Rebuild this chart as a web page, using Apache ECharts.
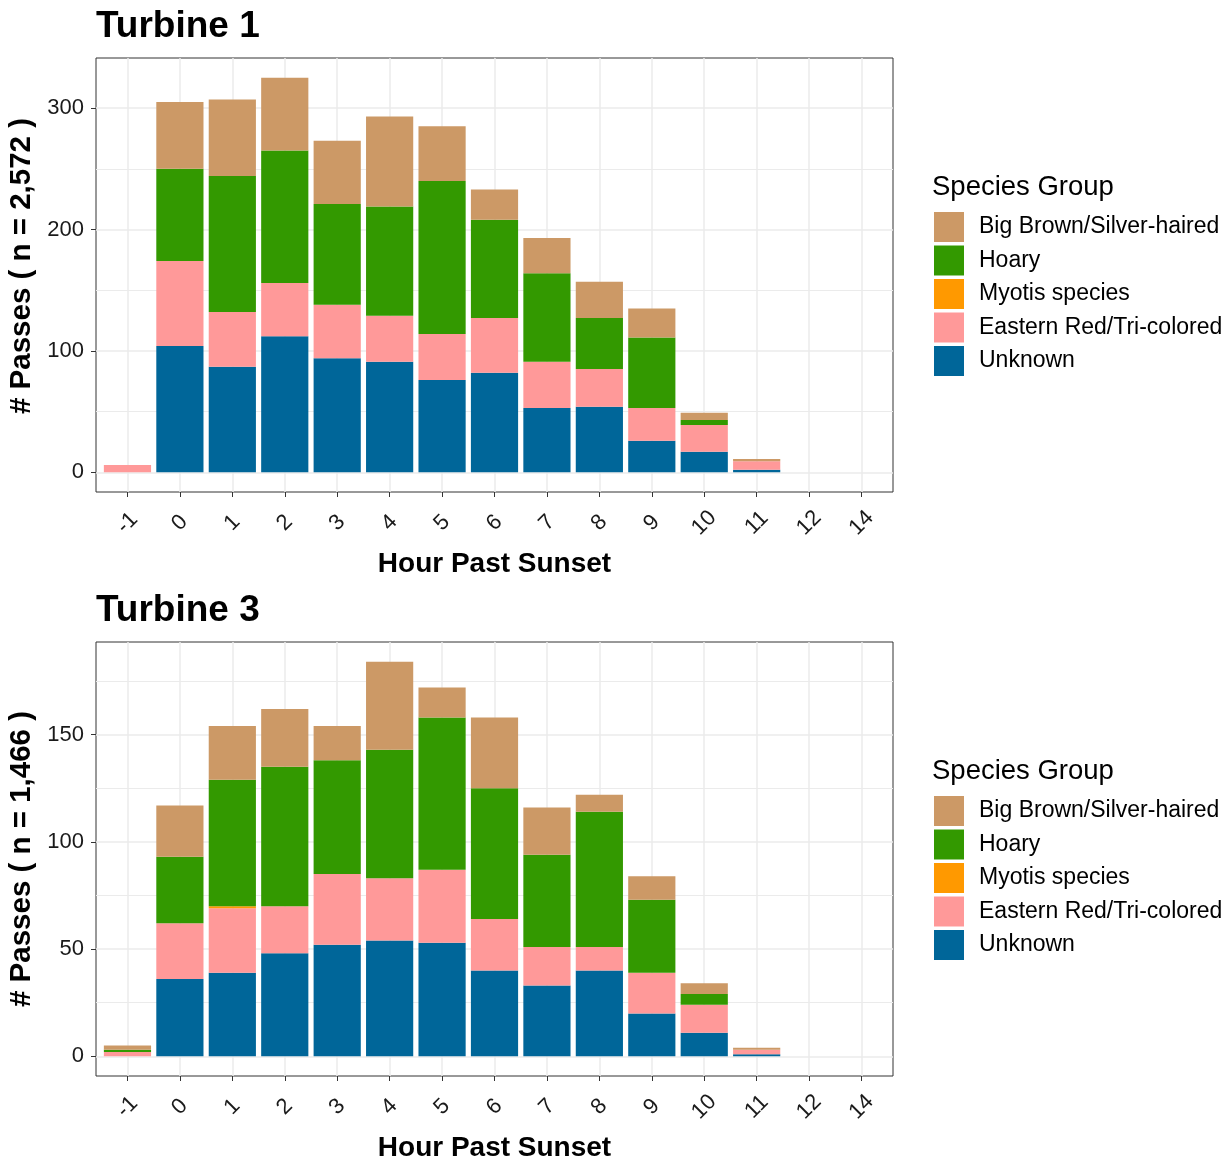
<!DOCTYPE html>
<html>
<head>
<meta charset="utf-8">
<script src="https://cdn.jsdelivr.net/npm/echarts@6/dist/echarts.min.js"></script>
<style>
  html, body { margin: 0; padding: 0; background: #ffffff; }
  #chart { width: 1227px; height: 1158px; }
</style>
</head>
<body>
<div id="chart"></div>
<script>
// Hours past sunset (discrete categories)
const hours = ['-1', '0', '1', '2', '3', '4', '5', '6', '7', '8', '9', '10', '11', '12', '14'];

// Species groups, legend order (top to bottom)
const groups = ['Big Brown/Silver-haired', 'Hoary', 'Myotis species', 'Eastern Red/Tri-colored', 'Unknown'];
const groupColors = ['#CC9966', '#339900', '#FF9900', '#FF9999', '#006699'];

// Turbine 1 passes per hour
const t1BigBrown = [0, 55, 63, 60, 52, 74, 45, 25, 29, 30, 24, 6, 2, 0, 0];
const t1Hoary    = [0, 76, 112, 109, 83, 90, 126, 81, 73, 42, 58, 4, 0, 0, 0];
const t1Myotis   = [0, 0, 0, 0, 0, 0, 0, 0, 0, 0, 0, 0, 0, 0, 0];
const t1Eastern  = [6, 70, 45, 44, 44, 38, 38, 45, 38, 31, 27, 22, 7, 0, 0];
const t1Unknown  = [0, 104, 87, 112, 94, 91, 76, 82, 53, 54, 26, 17, 2, 0, 0];

// Turbine 3 passes per hour
const t3BigBrown = [2, 24, 25, 27, 16, 41, 14, 33, 22, 8, 11, 5, 1, 0, 0];
const t3Hoary    = [1, 31, 59, 65, 53, 60, 71, 61, 43, 63, 34, 5, 0, 0, 0];
const t3Myotis   = [0, 0, 1, 0, 0, 0, 0, 0, 0, 0, 0, 0, 0, 0, 0];
const t3Eastern  = [2, 26, 30, 22, 33, 29, 34, 24, 18, 11, 19, 13, 2, 0, 0];
const t3Unknown  = [0, 36, 39, 48, 52, 54, 53, 40, 33, 40, 20, 11, 1, 0, 0];

// Axis ticks
const t1YTicks = [0, 100, 200, 300];
const t1YMinor = [50, 150, 250];
const t3YTicks = [0, 50, 100, 150];
const t3YMinor = [25, 75, 125, 175];

const panels = [
  { title: 'Turbine 1', sets: [t1BigBrown, t1Hoary, t1Myotis, t1Eastern, t1Unknown], ticks: t1YTicks, minor: t1YMinor, nameShift: 18 },
  { title: 'Turbine 3', sets: [t3BigBrown, t3Hoary, t3Myotis, t3Eastern, t3Unknown], ticks: t3YTicks, minor: t3YMinor, nameShift: 0 }
];

const FONT = "'Liberation Sans', Arial, sans-serif";
const GRID_LEFT = 96, GRID_W = 797, GRID_H = 434, PANEL_TOP = 58, PANEL_STEP = 584;
const grey92 = '#EBEBEB', grey20 = '#333333';

const grids = [], xAxes = [], yAxes = [], series = [], titles = [], legends = [];

panels.forEach((p, gi) => {
  const off = gi * PANEL_STEP;
  // stacked totals for the y-range (5% expansion on each side)
  const totals = hours.map((_, i) => p.sets.reduce((s, arr) => s + arr[i], 0));
  const n = totals.reduce((a, b) => a + b, 0);
  const maxT = Math.max(...totals);
  const pad = maxT * 0.05;

  grids.push({
    left: GRID_LEFT, top: PANEL_TOP + off, width: GRID_W, height: GRID_H,
    outerBoundsMode: 'none', containLabel: false,
    show: true, borderColor: grey20, borderWidth: 1, backgroundColor: 'transparent'
  });

  const catIdx = hours.map((_, i) => i);
  xAxes.push({
    type: 'value', gridIndex: gi, min: -0.6, max: hours.length - 1 + 0.6,
    name: 'Hour Past Sunset', nameLocation: 'middle', nameGap: 58,
    nameTextStyle: { fontFamily: FONT, fontSize: 28, fontWeight: 'bold', color: '#000' },
    axisLine: { show: false, onZero: false },
    axisTick: { show: true, length: 5, customValues: catIdx, lineStyle: { color: grey20, width: 1 } },
    axisLabel: {
      customValues: catIdx, formatter: v => hours[Math.round(v)],
      rotate: 45, align: 'center', verticalAlign: 'middle', margin: 31,
      fontFamily: FONT, fontSize: 22, color: '#1a1a1a'
    },
    splitLine: { show: true, lineStyle: { color: grey92, width: 1.5 } }
  });

  yAxes.push({
    type: 'value', gridIndex: gi, min: -pad, max: maxT + pad,
    name: '# Passes ( n = ' + n.toLocaleString('en-US') + ' )',
    nameLocation: 'middle', nameGap: 52, nameRotate: 90,
    nameTextStyle: {
      fontFamily: FONT, fontSize: 29.5, fontWeight: 'bold', color: '#000',
      padding: [0, 0, 0, p.nameShift]
    },
    axisLine: { show: false, onZero: false },
    axisTick: { show: true, length: 5, customValues: p.ticks, lineStyle: { color: grey20, width: 1 } },
    axisLabel: { customValues: p.ticks, margin: 12, fontFamily: FONT, fontSize: 22, color: '#1a1a1a' },
    splitLine: { show: true, lineStyle: { color: grey92, width: 1.5 } }
  });

  // stacking from the bottom up: Unknown, Eastern Red, Myotis, Hoary, Big Brown.
  // Each row is [count, hourIndex] so the count is the stacked dimension.
  for (let k = groups.length - 1; k >= 0; k--) {
    const s = {
      type: 'bar', name: groups[k], xAxisIndex: gi, yAxisIndex: gi,
      stack: 'panel' + gi, barWidth: '90%', z: 3,
      encode: { x: 1, y: 0 },
      itemStyle: { color: groupColors[k] },
      data: p.sets[k].map((v, i) => [v, i])
    };
    if (k === groups.length - 1) {
      s.markLine = {
        silent: true, symbol: 'none', z: 1, animation: false,
        label: { show: false },
        lineStyle: { color: grey92, width: 1, type: 'solid' },
        data: p.minor.map(v => ({ yAxis: v }))
      };
    }
    series.push(s);
  }

  titles.push({
    text: p.title, left: GRID_LEFT, top: 8 + off, padding: 0,
    textStyle: { fontFamily: FONT, fontSize: 37, fontWeight: 'bold', color: '#000' }
  });
  titles.push({
    text: 'Species Group', left: 932, top: 173 + off, padding: 0,
    textStyle: { fontFamily: FONT, fontSize: 27.5, fontWeight: 'normal', color: '#000' }
  });

  legends.push({
    data: groups.slice(), orient: 'vertical', left: 934, top: 212 + off,
    padding: 0, itemWidth: 30, itemHeight: 30, itemGap: 3.5, icon: 'rect',
    selectedMode: false,
    textStyle: { fontFamily: FONT, fontSize: 23, color: '#000', padding: [5, 0, 0, 10] }
  });
});

const chart = echarts.init(document.getElementById('chart'), null, { renderer: 'canvas' });
chart.setOption({
  animation: false,
  backgroundColor: '#ffffff',
  title: titles,
  legend: legends,
  grid: grids,
  xAxis: xAxes,
  yAxis: yAxes,
  series: series
});
</script>
</body>
</html>
